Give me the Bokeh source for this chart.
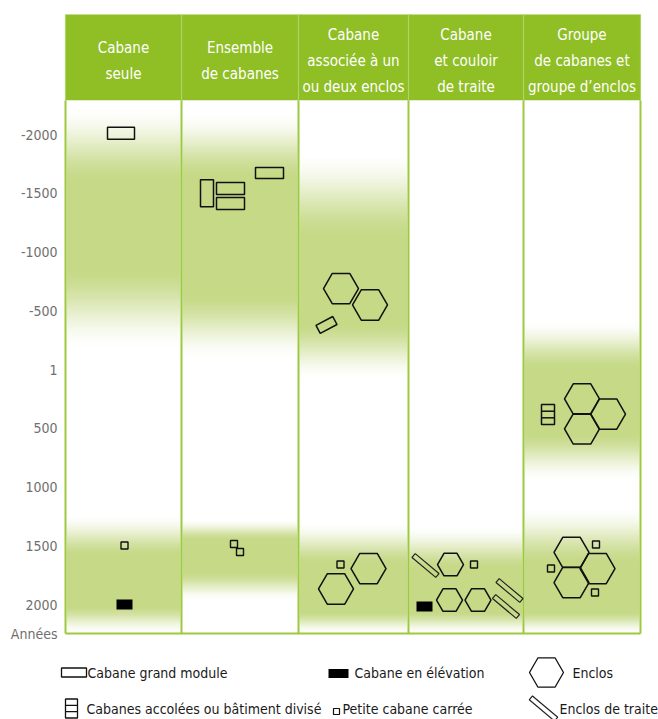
import numpy as np
from bokeh.plotting import figure
from bokeh.models import Range1d
from bokeh.embed import file_html
from bokeh.resources import INLINE
from bokeh.core.properties import value

# ------------------------------------------------------------------ data
column_titles = ["Cabane\nseule", "Ensemble\nde cabanes",
                 "Cabane\nassociée à un\nou deux enclos",
                 "Cabane\net couloir\nde traite",
                 "Groupe\nde cabanes et\ngroupe d\u2019enclos"]
year_ticks = [-2000, -1500, -1000, -500, 1, 500, 1000, 1500, 2000]
year_labels = ["-2000", "-1500", "-1000", "-500", "1", "500", "1000", "1500", "2000"]
axis_title = "Années"

# green periods per column (column index, fade-in start, full start, full end, fade-out end), years
band_col   = [0, 0, 1, 1, 2, 2, 3, 4, 4]
band_in    = [-2250, 1230, -2200, 1270, -1860, 1290, 1330, -420, 1160]
band_full0 = [-1570, 1600, -1610, 1460, -1100, 1670, 1710, 10, 1670]
band_full1 = [-890, 2000, -670, 1710, -420, 2050, 2050, 520, 2050]
band_out   = [-160, 2250, -80, 1970, 90, 2250, 2250, 950, 2250]

# "Cabane grand module" (outlined rectangles): horizontal position, year, size (px), angle
module_x = [55.5, 141.5, 165, 165, 204, 261]
module_y = [-2010, -1500, -1540, -1413, -1672, -379]
module_w = [27, 13, 28, 28, 28, 19]
module_h = [12, 27, 12, 12, 11, 9]
module_angle = [0, 0, 0, 0, 0, 28]

# "Cabane en élévation" (black rectangles)
elev_x = [59, 359]
elev_y = [2000, 2017]

# "Petite cabane carrée"
square_x = [59, 168.5, 174.5, 275, 408.5, 530.5, 485.5, 529.5]
square_y = [1498, 1485, 1553, 1660, 1660, 1489, 1694, 1898]

# "Enclos" (hexagons)
enclos_x = [275.5, 304.5, 270.5, 303, 516.5, 542.5, 516.5, 506, 532, 506, 385, 384, 412.5]
enclos_y = [-689, -549, 1868, 1694, 251, 379, 506, 1557, 1694, 1813, 1660, 1962, 1962]
enclos_size = [35, 35, 35, 35, 35, 35, 35, 35, 35, 35, 26, 26, 26]

# "Enclos de traite"
traite_x = [360, 444, 440.5]
traite_y = [1668, 1881, 2017]

# "Cabanes accolées ou bâtiment divisé"
accolees_x = [482.5]
accolees_y = [383]

legend_row1 = ["Cabane grand module", "Cabane en élévation", "Enclos"]
legend_row2 = ["Cabanes accolées ou bâtiment divisé", "Petite cabane carrée", "Enclos de traite"]

# ------------------------------------------------------------------ layout / style
FONT = value("DejaVu Sans Condensed, Roboto, sans-serif")
W, H = 658, 719
col_edges = [0, 116, 233, 343, 458, 575]
col_centers = [(a + b) / 2 for a, b in zip(col_edges[:-1], col_edges[1:])]
HEADER_GREEN = "#8fbe25"
EDGE_GREEN = "#9dc93f"
BAND_RGB = np.array([197, 217, 134])

# page-pixel frame (x from the left edge of the table, y from the page top)
PX_LEFT, PX_RIGHT, PX_TOP, PX_BOTTOM = -65, 593, 0, 719
HEADER_TOP, HEADER_BOTTOM, BODY_BOTTOM_PX = 14, 100, 633
# time scale: -2000 at page y 134, 0.1175 px per year
Y_REF_PX, Y_REF_YEAR, PX_PER_YEAR = 134, -2000, 0.1175


def year_at(px):
    return Y_REF_YEAR + (px - Y_REF_PX) / PX_PER_YEAR


BODY_TOP = year_at(HEADER_BOTTOM)
BODY_END = year_at(BODY_BOTTOM_PX)

p = figure(width=W, height=H, x_range=Range1d(PX_LEFT, PX_RIGHT),
           y_range=Range1d(PX_BOTTOM, PX_TOP),
           output_backend="svg", toolbar_location=None,
           x_axis_location=None, y_axis_location=None,
           min_border_left=0, min_border_right=0, min_border_top=0, min_border_bottom=0)
p.extra_y_ranges = {"years": Range1d(year_at(PX_BOTTOM), year_at(PX_TOP))}
p.outline_line_color = None
p.background_fill_color = "white"
p.border_fill_color = "white"
p.xgrid.visible = False
p.ygrid.visible = False

# ------------------------------------------------------------------ header
p.quad(left=col_edges[0], right=col_edges[-1], bottom=HEADER_BOTTOM, top=HEADER_TOP,
       fill_color=HEADER_GREEN, line_color=None)
p.segment(x0=col_edges, y0=[HEADER_TOP] * 6, x1=col_edges, y1=[HEADER_BOTTOM] * 6,
          line_color="#b0d46a", line_width=1.2)
p.text(x=col_centers, y=[60.5] * 5, text=column_titles,
       text_align="center", text_baseline="middle", text_color="white",
       text_font=FONT, text_font_size="15px", text_line_height=1.45)

# ------------------------------------------------------------------ body: gradient bands
N = int(round((BODY_END - BODY_TOP) * PX_PER_YEAR * 2))
rows_year = BODY_TOP + (np.arange(N) + 0.5) * (BODY_END - BODY_TOP) / N
for c in range(5):
    t = np.zeros(N)
    for bc, a0, f0, f1, a1 in zip(band_col, band_in, band_full0, band_full1, band_out):
        if bc != c:
            continue
        tt = np.interp(rows_year, [a0, f0, f1, a1], [0, 1, 1, 0], left=0, right=0)
        t = np.maximum(t, tt)
    t = t * t * (3 - 2 * t)
    img = np.empty((N, 1), dtype=np.uint32)
    view = img.view(dtype=np.uint8).reshape((N, 1, 4))
    for k in range(3):
        view[:, 0, k] = np.round(255 * (1 - t) + BAND_RGB[k] * t).astype(np.uint8)
    view[:, 0, 3] = 255
    p.image_rgba(image=[img], x=col_edges[c] + 1, y=BODY_TOP,
                 dw=col_edges[c + 1] - col_edges[c] - 2, dh=BODY_END - BODY_TOP,
                 y_range_name="years")

# column borders
p.segment(x0=col_edges, y0=[BODY_TOP] * 6, x1=col_edges, y1=[BODY_END] * 6,
          line_color=EDGE_GREEN, line_width=2, y_range_name="years")
p.segment(x0=[col_edges[0]], y0=[BODY_END], x1=[col_edges[-1]], y1=[BODY_END],
          line_color=EDGE_GREEN, line_width=2, y_range_name="years")

# time axis labels
p.text(x=[-8] * len(year_ticks), y=year_ticks, text=year_labels,
       text_align="right", text_baseline="middle", text_color="#6f6f6f",
       text_font=FONT, text_font_size="14px", y_range_name="years")
p.text(x=[-8], y=[BODY_END], text=[axis_title],
       text_align="right", text_baseline="middle", text_color="#6f6f6f",
       text_font=FONT, text_font_size="14px", y_range_name="years")

# ------------------------------------------------------------------ body: symbols
yr = dict(y_range_name="years")
p.rect(module_x, module_y, width=module_w, height=module_h,
       width_units="screen", height_units="screen",
       angle=module_angle, angle_units="deg",
       fill_color=None, line_color="#111111", line_width=1.5, **yr)
p.rect(elev_x, elev_y, width=16, height=10, width_units="screen", height_units="screen",
       fill_color="black", line_color=None, **yr)
p.rect(square_x, square_y, width=7, height=7, width_units="screen", height_units="screen",
       fill_color=None, line_color="#111111", line_width=1.4, **yr)
p.scatter(enclos_x, enclos_y, marker="hex", size=enclos_size,
          fill_color=None, line_color="#111111", line_width=1.5, **yr)
p.rect(traite_x, traite_y, width=31, height=5, width_units="screen", height_units="screen",
       angle=-40, angle_units="deg", fill_color=None, line_color="#222222", line_width=1.2, **yr)
p.rect(accolees_x, accolees_y, width=13, height=20, width_units="screen", height_units="screen",
       fill_color=None, line_color="#111111", line_width=1.5, **yr)
off = 3.3 / PX_PER_YEAR
p.scatter(accolees_x * 2, [accolees_y[0] - off, accolees_y[0] + off], marker="dash", size=13,
          line_color="#111111", line_width=1.5, **yr)

# ------------------------------------------------------------------ legend (page pixels)
r1, r2 = 672, 708
p.rect([8.5], [r1], width=25, height=9, width_units="screen", height_units="screen",
       fill_color=None, line_color="#111111", line_width=1.3)
p.rect([273], [r1 + 1], width=20, height=9, width_units="screen", height_units="screen",
       fill_color="black", line_color=None)
p.scatter([481], [r1], marker="hex", size=34, fill_color=None, line_color="#111111", line_width=1.3)
p.rect([6], [r2], width=12, height=19, width_units="screen", height_units="screen",
       fill_color=None, line_color="#111111", line_width=1.3)
p.scatter([6, 6], [r2 - 3.2, r2 + 3.2], marker="dash", size=12, line_color="#111111", line_width=1.3)
p.rect([271], [r2 + 3], width=6, height=6, width_units="screen", height_units="screen",
       fill_color=None, line_color="#111111", line_width=1.2)
p.rect([478], [r2], width=33, height=5, width_units="screen", height_units="screen",
       angle=-40, angle_units="deg", fill_color=None, line_color="#222222", line_width=1.2)
p.text(x=[22, 289, 507], y=[r1] * 3, text=legend_row1, text_baseline="middle",
       text_font=FONT, text_font_size="14px", text_color="#1a1a1a")
p.text(x=[21, 277, 494], y=[r2] * 3, text=legend_row2, text_baseline="middle",
       text_font=FONT, text_font_size="14px", text_color="#1a1a1a")

open("out.html", "w").write(file_html(p, INLINE))
